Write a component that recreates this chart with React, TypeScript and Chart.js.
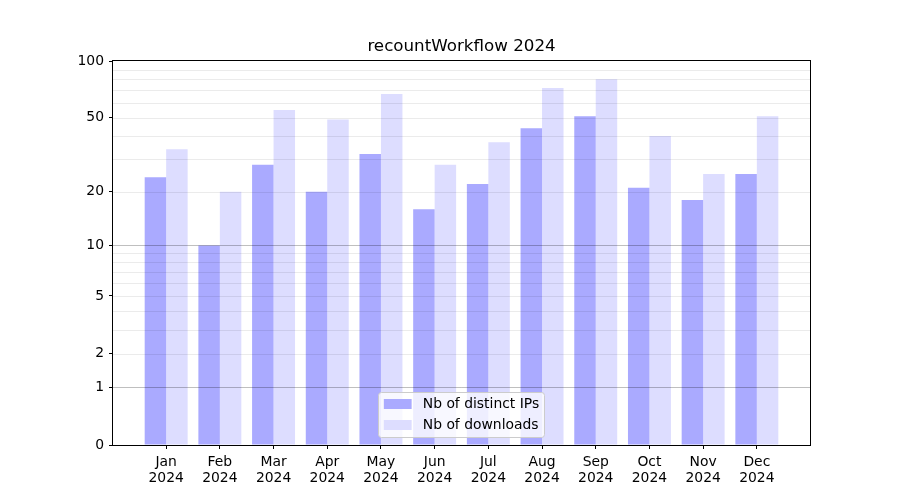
import React, { useEffect, useRef } from "react";
import { Chart, registerables } from "chart.js";

Chart.register(...registerables);

const months = ["Jan", "Feb", "Mar", "Apr", "May", "Jun", "Jul", "Aug", "Sep", "Oct", "Nov", "Dec"];
const yearLabel = "2024";
const distinctIPs = [24, 10, 28, 20, 32, 16, 22, 44, 51, 21, 18, 25];
const downloads = [34, 20, 55, 49, 67, 28, 37, 72, 80, 40, 25, 51];
const yTickValues = [0, 1, 2, 5, 10, 20, 50, 100];
const yTickLabels = ["0", "1", "2", "5", "10", "20", "50", "100"];
const majorGrid = [1, 10];
const minorGrid = [2, 3, 4, 5, 6, 7, 8, 9, 20, 30, 40, 50, 60, 70, 80, 90];
const titleText = "recountWorkflow 2024";
const seriesLabels = ["Nb of distinct IPs", "Nb of downloads"];
const seriesColors = ["#aaaaff", "#ddddff"];

const FONT = "DejaVu Sans";
const tf = (v: number) => Math.log10(1 + v);

const overlayPlugin = {
  id: "mplOverlay",
  afterDatasetsDraw(chart: any) {
    const ctx = chart.ctx as CanvasRenderingContext2D;
    const { left, right, top, bottom } = chart.chartArea;
    const ys = chart.scales.y;
    ctx.save();
    ctx.lineWidth = 1;
    const hline = (v: number, color: string) => {
      const py = Math.round(ys.getPixelForValue(tf(v))) + 0.5;
      ctx.strokeStyle = color;
      ctx.beginPath();
      ctx.moveTo(left, py);
      ctx.lineTo(right, py);
      ctx.stroke();
    };
    minorGrid.forEach((v) => hline(v, "rgba(0,0,0,0.08)"));
    majorGrid.forEach((v) => hline(v, "rgba(0,0,0,0.25)"));

    ctx.strokeStyle = "#000";
    ctx.lineWidth = 1;
    ctx.strokeRect(Math.round(left) - 0.5, Math.round(top) - 0.5, Math.round(right - left) + 1, Math.round(bottom - top) + 1);

    ctx.fillStyle = "#000";
    ctx.font = `16.7px "${FONT}"`;
    ctx.textAlign = "center";
    ctx.textBaseline = "alphabetic";
    ctx.fillText(titleText, (left + right) / 2, 51);

    const fs = 13.9;
    ctx.font = `${fs}px "${FONT}"`;
    const textW = Math.max(...seriesLabels.map((s) => ctx.measureText(s).width));
    const pad = 0.4 * fs;
    const handleLen = 2 * fs;
    const handleGap = 0.8 * fs;
    const rowH = 21;
    const boxW = pad + handleLen + handleGap + textW + pad;
    const boxH = 45;
    const bx = (left + right) / 2 - boxW / 2;
    const by = bottom - 8 - boxH;
    ctx.beginPath();
    (ctx as any).roundRect(Math.round(bx) + 0.5, Math.round(by) + 0.5, Math.round(boxW), boxH, 3);
    ctx.fillStyle = "rgba(255,255,255,0.8)";
    ctx.fill();
    ctx.strokeStyle = "#cccccc";
    ctx.stroke();
    seriesLabels.forEach((lab, i) => {
      const cy = by + 12 + i * rowH;
      ctx.fillStyle = seriesColors[i];
      ctx.fillRect(bx + pad, cy - 5, handleLen, 10);
      ctx.fillStyle = "#000";
      ctx.textAlign = "left";
      ctx.textBaseline = "middle";
      ctx.fillText(lab, bx + pad + handleLen + handleGap, cy);
    });
    ctx.restore();
  },
};

export default function App() {
  const ref = useRef<HTMLCanvasElement | null>(null);
  useEffect(() => {
    document.body.style.margin = "0";
    const canvas = ref.current;
    if (!canvas) return;
    const chart = new Chart(canvas, {
      type: "bar",
      data: {
        datasets: [
          {
            label: seriesLabels[0],
            data: distinctIPs.map((v, i) => ({ x: i, y: tf(v) })),
            backgroundColor: seriesColors[0],
            borderWidth: 0,
          },
          {
            label: seriesLabels[1],
            data: downloads.map((v, i) => ({ x: i, y: tf(v) })),
            backgroundColor: seriesColors[1],
            borderWidth: 0,
          },
        ],
      },
      options: {
        animation: false,
        responsive: false,
        devicePixelRatio: 1,
        layout: { padding: { top: 61, right: 90, bottom: 0, left: 0 } },
        datasets: { bar: { categoryPercentage: 0.8, barPercentage: 1.0 } },
        plugins: {
          legend: { display: false },
          title: { display: false },
          tooltip: { enabled: false },
        },
        scales: {
          x: {
            type: "linear",
            offset: false,
            min: -0.99,
            max: 11.99,
            afterBuildTicks: (scale: any) => {
              scale.ticks = months.map((_, i) => ({ value: i }));
            },
            afterFit: (scale: any) => {
              scale.height = 55;
            },
            ticks: {
              autoSkip: false,
              maxRotation: 0,
              color: "#000",
              padding: 5,
              font: { family: FONT, size: 13.9, lineHeight: 1.15 },
              callback: (_v: any, i: number) => [months[i], yearLabel],
            },
            grid: { display: true, offset: false, drawOnChartArea: false, color: "#000", tickLength: 4, tickWidth: 1 },
            border: { display: false },
          },
          y: {
            type: "linear",
            min: 0,
            max: tf(100),
            afterBuildTicks: (scale: any) => {
              scale.ticks = yTickValues.map((v) => ({ value: tf(v) }));
            },
            afterFit: (scale: any) => {
              scale.width = 113;
            },
            ticks: {
              autoSkip: false,
              color: "#000",
              padding: 5,
              font: { family: FONT, size: 13.9 },
              callback: (_v: any, i: number) => yTickLabels[i],
            },
            grid: { display: true, drawOnChartArea: false, color: "#000", tickLength: 4, tickWidth: 1 },
            border: { display: false },
          },
        },
      },
      plugins: [overlayPlugin],
    } as any);
    return () => chart.destroy();
  }, []);
  return (
    <div style={{ width: 900, height: 500, background: "#fff" }}>
      <canvas ref={ref} width={900} height={500} />
    </div>
  );
}
